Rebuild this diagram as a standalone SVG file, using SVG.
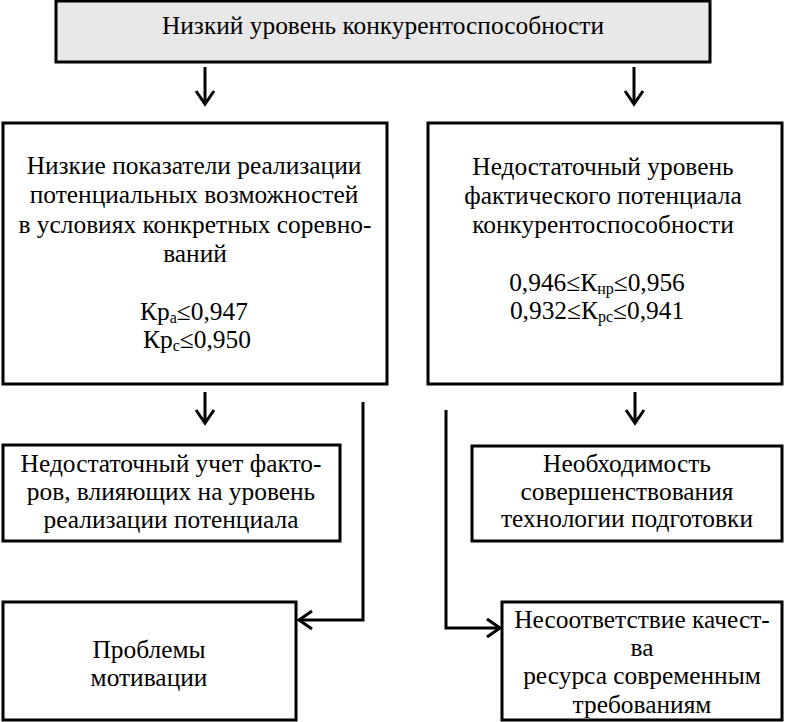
<svg xmlns="http://www.w3.org/2000/svg" width="785" height="722" viewBox="0 0 785 722" font-family="Liberation Serif, serif" font-size="25.4">
<style>
.box{fill:#ffffff;stroke:#000000;stroke-width:3}
.top{fill:#e8e8e8;stroke:#000000;stroke-width:3}
.t{fill:#000000;text-anchor:middle}
.sub{font-size:16px}
.con{fill:none;stroke:#000000;stroke-width:3}
</style>
<defs>
<marker id="arr" markerUnits="userSpaceOnUse" markerWidth="30" markerHeight="30" viewBox="-15 -15 30 30" refX="0" refY="0" orient="auto" overflow="visible">
<path d="M-13,-9 L0,0 L-13,9" fill="none" stroke="#000000" stroke-width="3"/>
</marker>
</defs>
<g id="connectors">
<path class="con" d="M205,67 V104" marker-end="url(#arr)"/>
<path class="con" d="M634,67 V104" marker-end="url(#arr)"/>
<path class="con" d="M205,392 V423" marker-end="url(#arr)"/>
<path class="con" d="M635,392 V423" marker-end="url(#arr)"/>
<path class="con" d="M363,402 V620 H299" marker-end="url(#arr)"/>
<path class="con" d="M446,410 V628 H500" marker-end="url(#arr)"/>
</g>
<g id="node-top">
<rect class="top" x="56" y="1" width="654" height="61"/>
<text class="t" x="383" y="34">Низкий уровень конкурентоспособности</text>
</g>
<g id="node-left">
<rect class="box" x="3" y="123" width="384" height="261"/>
<text class="t" x="194" y="174">Низкие показатели реализации</text>
<text class="t" x="194" y="203">потенциальных возможностей</text>
<text class="t" x="195" y="233">в условиях конкретных соревно-</text>
<text class="t" x="195" y="262">ваний</text>
<text class="t" x="194" y="320">Кр<tspan class="sub" dy="3">а</tspan><tspan dy="-3">≤0,947</tspan></text>
<text class="t" x="197" y="348">Кр<tspan class="sub" dy="3">с</tspan><tspan dy="-3">≤0,950</tspan></text>
</g>
<g id="node-right">
<rect class="box" x="428" y="123" width="354" height="261"/>
<text class="t" x="603" y="175">Недостаточный уровень</text>
<text class="t" x="603" y="204">фактического потенциала</text>
<text class="t" x="603" y="233">конкурентоспособности</text>
<text class="t" x="597" y="291">0,946≤К<tspan class="sub" dy="3">нр</tspan><tspan dy="-3">≤0,956</tspan></text>
<text class="t" x="597" y="319">0,932≤К<tspan class="sub" dy="3">рс</tspan><tspan dy="-3">≤0,941</tspan></text>
</g>
<g id="node-factors">
<rect class="box" x="3" y="445" width="337" height="96"/>
<text class="t" x="171" y="472">Недостаточный учет факто-</text>
<text class="t" x="171" y="500">ров, влияющих на уровень</text>
<text class="t" x="171" y="528">реализации потенциала</text>
</g>
<g id="node-motivation">
<rect class="box" x="3" y="602" width="293" height="118"/>
<text class="t" x="149" y="658">Проблемы</text>
<text class="t" x="149" y="686">мотивации</text>
</g>
<g id="node-technology">
<rect class="box" x="472" y="446" width="310" height="95"/>
<text class="t" x="627" y="472">Необходимость</text>
<text class="t" x="627" y="500">совершенствования</text>
<text class="t" x="627" y="527">технологии подготовки</text>
</g>
<g id="node-resource">
<rect class="box" x="502" y="602" width="280" height="118"/>
<text class="t" x="642" y="628">Несоответствие качест-</text>
<text class="t" x="642" y="656">ва</text>
<text class="t" x="642" y="684">ресурса современным</text>
<text class="t" x="642" y="713">требованиям</text>
</g>
</svg>
